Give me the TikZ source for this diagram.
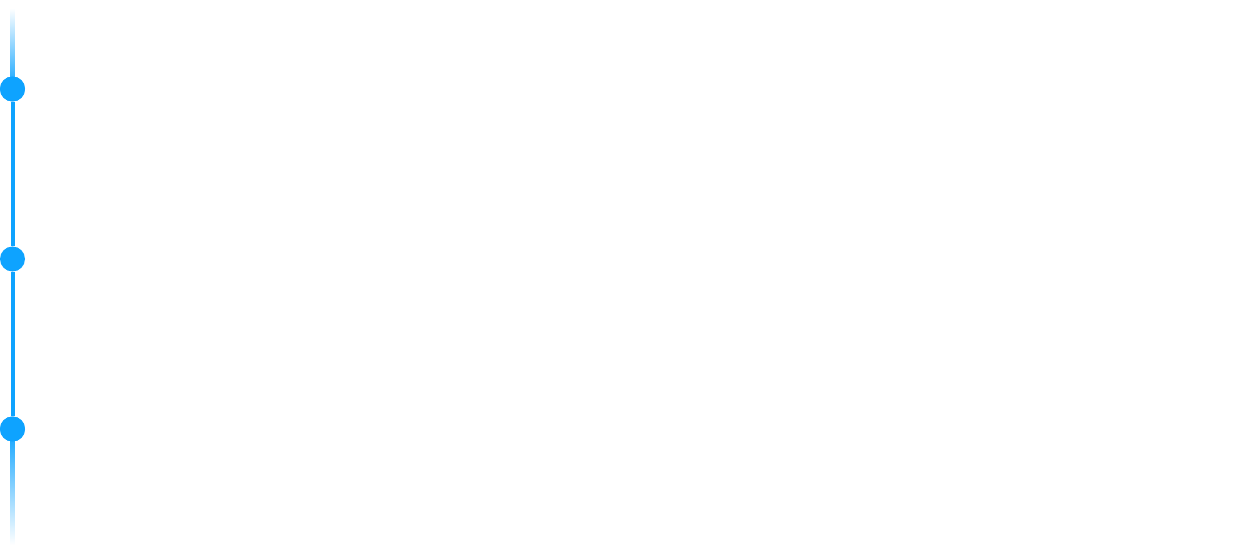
\documentclass[tikz,border=0pt]{standalone}
\usepackage{tikz}
\usetikzlibrary{calc}
\definecolor{tlblue}{RGB}{14,163,255}

\begin{document}
\begin{tikzpicture}[
  x=1pt, y=-1pt,
  dot/.style={circle, fill=tlblue, inner sep=0pt, minimum size=25pt},
  stem/.style={draw=tlblue, line width=4pt}
]
\useasboundingbox (0,0) rectangle (1257,553);
\coordinate (top) at (12.5,8);
\coordinate (bot) at (12.5,545);
\node[dot] (first) at (12.5,89) {};
\node[dot] (second) at (12.5,259) {};
\node[dot] (third) at (12.5,429) {};

% faded ends
\shade[top color=white, bottom color=tlblue] ($(top)+(-2,0)$) rectangle ($(first)+(2,0)$);
\shade[top color=tlblue, bottom color=white] ($(third)+(-2,0)$) rectangle ($(bot)+(2,0)$);
\draw[stem] (first) -- (second);
\draw[stem] (second) -- (third);
\node[dot] at (first) {};
\node[dot] at (third) {};
\end{tikzpicture}
\end{document}
